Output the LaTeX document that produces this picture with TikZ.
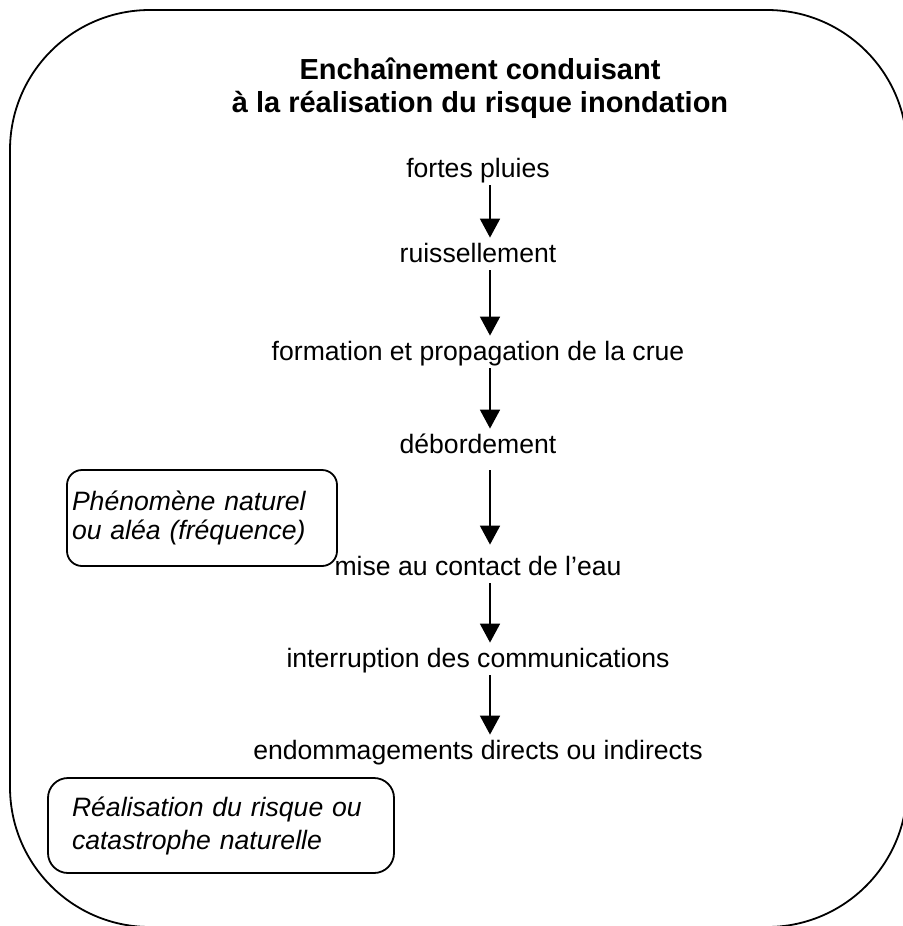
\documentclass[tikz,border=0pt]{standalone}
\usepackage{fontspec}
\setmainfont{Liberation Sans}
\usetikzlibrary{arrows.meta,positioning}

\begin{document}
\begin{tikzpicture}[x=0.5pt,y=-0.5pt,
		etape/.style={inner sep=0pt,text height=10pt,text depth=3pt,anchor=base,font=\fontsize{13.3}{16}\selectfont},
		titre/.style={inner sep=0pt,anchor=base,font=\fontsize{14.5}{17}\selectfont\bfseries},
		note/.style={draw,line width=0.9pt,align=left,inner ysep=0pt},
		fl/.style={-{Triangle[width=10pt,length=9.5pt]},line width=0.9pt,shorten <=1pt,shorten >=2pt}
		]
		\useasboundingbox (0,0) rectangle (903,926);
		\clip (0,0) rectangle (903,926);
		\draw[line width=0.9pt,rounded corners=70pt] (10,10) rectangle (907,927);
		\node[titre] (titre1) at (480,79) {Enchaînement conduisant};
		\node[titre] (titre2) at (480,112) {à la réalisation du risque inondation};
		\node[etape] (pluies) at (478,177) {fortes pluies};
		\node[etape] (ruiss) at (478,262) {ruissellement};
		\node[etape] (crue) at (478,360) {formation et propagation de la crue};
		\node[etape] (debord) at (478,453) {débordement};
		\node[etape] (contact) at (478,575) {mise au contact de l’eau};
		\node[etape] (interr) at (478,667) {interruption des communications};
		\node[etape] (dommages) at (478,759) {endommagements directs ou indirects};
		\node[note,rounded corners=7.5pt,text width=130pt,inner xsep=2.5pt,minimum height=48pt,
			font=\fontsize{13.3}{14.5}\selectfont\itshape] (alea) at (202,518) {Phénomène naturel\\ou aléa (fréquence)};
		\node[note,rounded corners=10pt,text width=149pt,inner xsep=12pt,minimum height=47.5pt,
			font=\fontsize{13.3}{16.5}\selectfont\itshape] (catastrophe) at (221,825.5) {Réalisation du risque ou\\catastrophe naturelle};
		\draw[fl] ([xshift=6pt]pluies.south) -- ([xshift=6pt]ruiss.north);
		\draw[fl] ([xshift=6pt]ruiss.south) -- ([xshift=6pt]crue.north);
		\draw[fl] ([xshift=6pt]crue.south) -- ([xshift=6pt]debord.north);
		\draw[fl,shorten <=5.5pt,shorten >=5pt] ([xshift=6pt]debord.south) -- ([xshift=6pt]contact.north);
		\draw[fl] ([xshift=6pt]contact.south) -- ([xshift=6pt]interr.north);
		\draw[fl] ([xshift=6pt]interr.south) -- ([xshift=6pt]dommages.north);
	\end{tikzpicture}
\end{document}
